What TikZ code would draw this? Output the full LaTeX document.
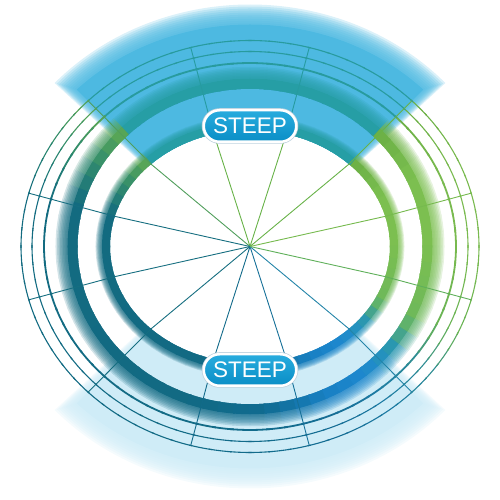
\documentclass[tikz,border=0pt]{standalone}
\usepackage{fontspec}
\newfontfamily\labelfont{Liberation Sans}
\definecolor{topov}{RGB}{77,185,225}
\definecolor{botov}{RGB}{207,236,247}
\definecolor{pillTop}{RGB}{40,172,222}
\definecolor{pillBot}{RGB}{10,142,198}
\definecolor{pillEdge}{RGB}{190,210,222}
\definecolor{spGreen}{RGB}{118,186,78}
\definecolor{spGreenB}{RGB}{104,178,72}
\definecolor{spTeal}{RGB}{38,155,160}
\definecolor{spGT}{RGB}{80,158,92}
\definecolor{spDark}{RGB}{22,110,128}
\definecolor{spDarkB}{RGB}{18,106,138}
\definecolor{spBlue}{RGB}{22,112,152}
\definecolor{spBlueB}{RGB}{35,132,168}
\definecolor{spGreenC}{RGB}{95,176,90}
\def\SA{{0,25,44,46,134,136,150,165,250,275,295,310,322,335,360}}
\def\BR{{124,124,108,38,38,92,50,20,18,16,25,30,40,110,124}}
\def\BG{{191,191,176,158,158,168,140,108,106,108,128,137,150,185,191}}
\def\BB{{80,80,70,165,165,85,110,128,132,145,195,208,180,90,80}}
\def\LR{{121,121,108,40,40,88,45,20,19,18,22,30,45,105,121}}
\def\LG{{186,186,176,155,155,165,138,108,107,108,110,125,140,180,186}}
\def\LB{{79,79,70,158,158,85,110,128,134,140,150,165,150,85,79}}
\newcommand\mkcol[5]{%
 \pgfmathtruncatemacro\cidx{(#2>=25)+(#2>=44)+(#2>=46)+(#2>=134)+(#2>=136)+(#2>=150)+(#2>=165)+(#2>=250)+(#2>=275)+(#2>=295)+(#2>=310)+(#2>=322)+(#2>=335)}%
 \pgfmathtruncatemacro\cjdx{\cidx+1}%
 \pgfmathsetmacro\ctt{(#2-\SA[\cidx])/(\SA[\cjdx]-\SA[\cidx])}%
 \pgfmathtruncatemacro\cRR{#3[\cidx]+\ctt*(#3[\cjdx]-#3[\cidx])}%
 \pgfmathtruncatemacro\cGG{#4[\cidx]+\ctt*(#4[\cjdx]-#4[\cidx])}%
 \pgfmathtruncatemacro\cBB{#5[\cidx]+\ctt*(#5[\cjdx]-#5[\cidx])}%
 \xglobal\definecolor{#1}{RGB}{\cRR,\cGG,\cBB}}
\newcommand\ringseg[4]{%
 \foreach \i in {0,...,71}{%
  \pgfmathsetmacro\sgA{\i*5-0.4}\pgfmathsetmacro\sgB{\i*5+5.4}%
  \draw[line width=#4, color=#1\i] (\sgA:#2 and #3) arc[start angle=\sgA, end angle=\sgB, x radius=#2, y radius=#3];
 }}
\newcommand\blurband[5]{%
 \ringseg{bc}{#1}{#2}{#3pt}%
 \foreach \k in {1,...,#5}{%
  \pgfmathsetmacro\ext{#4*\k}%
  \pgfmathsetmacro\rxk{#1+\ext/2}\pgfmathsetmacro\ryk{#2+\ext/2}\pgfmathsetmacro\wk{#3+\ext}%
  \begin{scope}[transparency group, opacity=0.18]
   \ringseg{bc}{\rxk}{\ryk}{\wk pt}
  \end{scope}
 }}
\newcommand\sectorfill[6]{%
 \fill[#1, opacity=#6] (#2:140 and 116.5) arc[start angle=#2, end angle=#3, x radius=140, y radius=116.5]
   -- (#3:#4 and #5) arc[start angle=#3, end angle=#2, x radius=#4, y radius=#5] -- cycle;}
\tikzset{
 pill/.style={rounded corners=15.75pt, minimum width=92.5pt, minimum height=31.5pt,
   draw=white, line width=2.5pt, top color=pillTop, bottom color=pillBot, text=white,
   font=\labelfont\fontsize{22.5}{22.5}\selectfont, inner sep=0pt,
   preaction={draw=pillEdge, line width=4pt}},
 spoke/.style={line width=0.9pt}
}
\begin{document}
\begin{tikzpicture}[x=1pt,y=1pt]
\useasboundingbox (0,0) rectangle (500,500);
\foreach \i in {0,...,71}{\pgfmathsetmacro\am{\i*5+2.5}\mkcol{bc\i}{\am}{\BR}{\BG}{\BB}\mkcol{lc\i}{\am}{\LR}{\LG}{\LB}}
\begin{scope}[shift={(250,253.5)}]
 % overlays
 \sectorfill{topov}{45}{135}{245}{222}{1}
 \foreach \k in {1,...,10}{\pgfmathsetmacro\aa{45-0.25*\k}\pgfmathsetmacro\ab{135+0.25*\k}\pgfmathsetmacro\ro{245+2*\k}\pgfmathsetmacro\rp{222+2*\k}\sectorfill{topov}{\aa}{\ab}{\ro}{\rp}{0.2}}
 \sectorfill{botov}{225}{315}{245}{222}{1}
 \foreach \k in {1,...,10}{\pgfmathsetmacro\aa{225-0.25*\k}\pgfmathsetmacro\ab{315+0.25*\k}\pgfmathsetmacro\ro{245+2*\k}\pgfmathsetmacro\rp{222+2*\k}\sectorfill{botov}{\aa}{\ab}{\ro}{\rp}{0.2}}
 % bands
 \blurband{144}{120.5}{8}{0.8}{8}
 \blurband{177.5}{162.75}{10}{1.5}{8}
 % ring lines
 \ringseg{lc}{206}{183.5}{1.8pt}
 \ringseg{lc}{218}{195}{1.1pt}
 \ringseg{lc}{229}{206}{1.1pt}
 % spokes
 \foreach \a/\cin/\cout in {15/spGreen/spGreen,45/spGreenB/spGreenB,75/spGreenB/spTeal,105/spGreenB/spTeal,135/spGT/spGT,165/spDark/spDark,195/spDark/spDark,225/spDark/spDark,255/spDarkB/spDarkB,285/spBlue/spBlue,315/spBlueB/spBlueB,345/spGreenC/spGreenC}{
  \draw[spoke, \cin] (0,0) -- (\a:140 and 116.5);
  \draw[spoke, \cout] (\a:140 and 116.5) -- (\a:229 and 206);
 }
 % labels
 \node[pill] (steepTop) at (0,120.5) {STEEP};
 \node[pill] (steepBottom) at (0,-123.5) {STEEP};
\end{scope}
\end{tikzpicture}
\end{document}
